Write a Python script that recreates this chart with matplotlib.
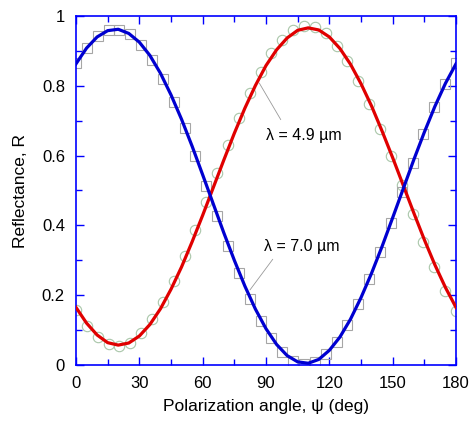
import matplotlib
matplotlib.use("Agg")
import matplotlib.pyplot as plt
from matplotlib.ticker import MultipleLocator, FixedLocator, FixedFormatter

plt.rcParams['font.family'] = ['Liberation Sans', 'DejaVu Sans']

# measured data (36 angles between 0 and 180 deg)
psi_data = [0.0, 5.1, 10.3, 15.4, 20.6, 25.7, 30.9, 36.0, 41.1, 46.3, 51.4, 56.6,
            61.7, 66.9, 72.0, 77.1, 82.3, 87.4, 92.6, 97.7, 102.9, 108.0, 113.1, 118.3,
            123.4, 128.6, 133.7, 138.9, 144.0, 149.1, 154.3, 159.4, 164.6, 169.7, 174.9, 180.0]
R_49_data = [0.157, 0.112, 0.081, 0.060, 0.054, 0.064, 0.091, 0.131, 0.180, 0.240, 0.311, 0.388,
             0.467, 0.549, 0.630, 0.709, 0.778, 0.840, 0.893, 0.931, 0.959, 0.971, 0.969, 0.950,
             0.913, 0.870, 0.815, 0.748, 0.676, 0.599, 0.515, 0.433, 0.353, 0.281, 0.213, 0.156]
R_70_data = [0.864, 0.909, 0.942, 0.959, 0.961, 0.948, 0.918, 0.875, 0.820, 0.755, 0.679, 0.598,
             0.514, 0.427, 0.342, 0.264, 0.190, 0.127, 0.076, 0.038, 0.012, 0.003, 0.010, 0.031,
             0.067, 0.115, 0.175, 0.245, 0.324, 0.407, 0.497, 0.579, 0.661, 0.740, 0.806, 0.864]

# fitted curves (read every 5 deg)
psi_fit = [0, 5, 10, 15, 20, 25, 30, 35, 40, 45, 50, 55, 60, 65, 70, 75, 80, 85, 90,
           95, 100, 105, 110, 115, 120, 125, 130, 135, 140, 145, 150, 155, 160, 165, 170, 175, 180]
R_49_fit = [0.165, 0.120, 0.086, 0.064, 0.057, 0.063, 0.083, 0.116, 0.161, 0.217, 0.281, 0.353,
            0.429, 0.508, 0.587, 0.664, 0.736, 0.801, 0.858, 0.903, 0.937, 0.959, 0.966, 0.960,
            0.940, 0.907, 0.862, 0.806, 0.742, 0.670, 0.594, 0.515, 0.436, 0.359, 0.287, 0.222, 0.165]
R_70_fit = [0.863, 0.908, 0.940, 0.958, 0.962, 0.950, 0.925, 0.887, 0.836, 0.774, 0.704, 0.627,
            0.545, 0.462, 0.379, 0.300, 0.226, 0.160, 0.104, 0.059, 0.027, 0.009, 0.005, 0.016,
            0.042, 0.080, 0.131, 0.193, 0.263, 0.340, 0.422, 0.505, 0.588, 0.667, 0.741, 0.807, 0.863]

x_ticks = [0, 30, 60, 90, 120, 150, 180]
y_ticks = [0, 0.2, 0.4, 0.6, 0.8, 1.0]
y_tick_labels = ["0", "0.2", "0.4", "0.6", "0.8", "1"]

fig = plt.figure(figsize=(4.72, 4.22), dpi=100)
ax = fig.add_axes([76/472, 1-365/422, 380/472, 349/422])

ax.plot(psi_data, R_49_data, linestyle='none', marker='o', markersize=7.5,
        markerfacecolor='none', markeredgecolor='#a9c6a9', markeredgewidth=0.8, zorder=2)
ax.plot(psi_data, R_70_data, linestyle='none', marker='s', markersize=7.5,
        markerfacecolor='none', markeredgecolor='#a6a6a6', markeredgewidth=0.8, zorder=2)
ax.plot(psi_fit, R_49_fit, color='#e00000', linewidth=2.3, zorder=3)
ax.plot(psi_fit, R_70_fit, color='#0000d0', linewidth=2.3, zorder=4)

# annotations
ax.annotate('', xy=(86.8, 0.808), xytext=(97.0, 0.703),
            arrowprops=dict(arrowstyle='-', color='#999999', lw=0.6, shrinkA=0, shrinkB=0))
ax.text(90.0, 0.658, 'λ = 4.9 µm', fontsize=11.5, ha='left', va='center')
ax.annotate('', xy=(82.4, 0.215), xytext=(93.2, 0.303),
            arrowprops=dict(arrowstyle='-', color='#999999', lw=0.6, shrinkA=0, shrinkB=0))
ax.text(89.0, 0.339, 'λ = 7.0 µm', fontsize=11.5, ha='left', va='center')

ax.set_xlim(0, 180)
ax.set_ylim(0, 1)
ax.xaxis.set_major_locator(FixedLocator(x_ticks))
ax.xaxis.set_minor_locator(MultipleLocator(15))
ax.yaxis.set_major_locator(FixedLocator(y_ticks))
ax.yaxis.set_major_formatter(FixedFormatter(y_tick_labels))
ax.yaxis.set_minor_locator(MultipleLocator(0.1))

for s in ax.spines.values():
    s.set_color('#0000ff')
    s.set_linewidth(1.2)
ax.tick_params(which='both', direction='in', top=True, right=True, colors='#0000ff',
               labelcolor='black', labelsize=12, pad=8, width=1.0)
ax.tick_params(which='major', length=6)
ax.tick_params(which='minor', length=4.5)

ax.set_xlabel('Polarization angle, ψ (deg)', fontsize=12.5, labelpad=6)
ax.set_ylabel('Reflectance, R', fontsize=12.5, labelpad=10)

fig.savefig('out.png', dpi=100)
